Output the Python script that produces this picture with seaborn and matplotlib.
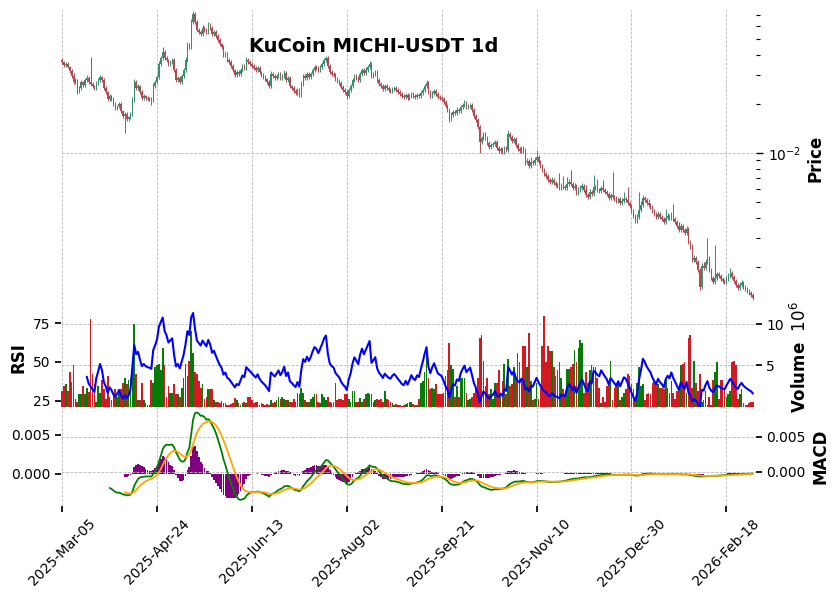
import numpy as np
import pandas as pd
import matplotlib
matplotlib.use("Agg")
import matplotlib.pyplot as plt
import seaborn as sns
from matplotlib.ticker import FixedLocator, FormatStrFormatter

sns.set_theme(style="white")
plt.rcParams['font.family'] = ['DejaVu Sans']
plt.rcParams.update({"text.color": "black", "axes.labelcolor": "black",
                     "xtick.color": "black", "ytick.color": "black"})

# ---------------- data ----------------
title = "KuCoin MICHI-USDT 1d"
start_date = "2025-03-05"
first_open = 0.0372

closes = [
    0.0362, 0.0347, 0.0352, 0.0337, 0.0318, 0.0297, 0.0272, 0.0280, 0.0241, 0.0250,
    0.0272, 0.0261, 0.0280, 0.0289, 0.0272, 0.0265, 0.0257, 0.0250, 0.0269, 0.0280,
    0.0293, 0.0280, 0.0250, 0.0237, 0.0215, 0.0224, 0.0215, 0.0199, 0.0189, 0.0194,
    0.0199, 0.0181, 0.0169, 0.0174, 0.0162, 0.0166, 0.0174, 0.0211, 0.0272, 0.0250,
    0.0257, 0.0237, 0.0218, 0.0224, 0.0218, 0.0215, 0.0214, 0.0211, 0.0257, 0.0272,
    0.0293, 0.0352, 0.0383, 0.0416, 0.0383, 0.0372, 0.0352, 0.0362, 0.0372, 0.0323,
    0.0280, 0.0289, 0.0272, 0.0297, 0.0323, 0.0372, 0.0460, 0.0447, 0.0637, 0.0713,
    0.0637, 0.0568, 0.0552, 0.0537, 0.0585, 0.0568, 0.0552, 0.0610, 0.0585, 0.0537,
    0.0552, 0.0522, 0.0493, 0.0466, 0.0447, 0.0399, 0.0410, 0.0372, 0.0362, 0.0342,
    0.0323, 0.0301, 0.0314, 0.0305, 0.0323, 0.0342, 0.0333, 0.0372, 0.0362, 0.0352,
    0.0342, 0.0333, 0.0323, 0.0333, 0.0314, 0.0301, 0.0293, 0.0284, 0.0272, 0.0257,
    0.0305, 0.0297, 0.0289, 0.0297, 0.0305, 0.0289, 0.0297, 0.0310, 0.0280, 0.0289,
    0.0257, 0.0250, 0.0241, 0.0234, 0.0244, 0.0227, 0.0265, 0.0297, 0.0289, 0.0305,
    0.0293, 0.0305, 0.0323, 0.0337, 0.0333, 0.0323, 0.0337, 0.0352, 0.0372, 0.0383,
    0.0342, 0.0314, 0.0305, 0.0301, 0.0284, 0.0276, 0.0269, 0.0254, 0.0244, 0.0237,
    0.0224, 0.0244, 0.0257, 0.0280, 0.0297, 0.0289, 0.0280, 0.0305, 0.0323, 0.0310,
    0.0323, 0.0337, 0.0352, 0.0297, 0.0305, 0.0314, 0.0280, 0.0265, 0.0257, 0.0247,
    0.0257, 0.0250, 0.0244, 0.0241, 0.0247, 0.0250, 0.0244, 0.0237, 0.0231, 0.0224,
    0.0221, 0.0227, 0.0218, 0.0224, 0.0231, 0.0224, 0.0221, 0.0227, 0.0224, 0.0234,
    0.0244, 0.0257, 0.0269, 0.0237, 0.0224, 0.0234, 0.0241, 0.0231, 0.0221, 0.0218,
    0.0215, 0.0205, 0.0194, 0.0184, 0.0162, 0.0171, 0.0179, 0.0176, 0.0184, 0.0181,
    0.0191, 0.0197, 0.0202, 0.0191, 0.0194, 0.0197, 0.0184, 0.0169, 0.0159, 0.0145,
    0.0117, 0.0124, 0.0130, 0.0124, 0.0115, 0.0109, 0.0112, 0.0113, 0.0117, 0.0107,
    0.0103, 0.0106, 0.0101, 0.0107, 0.0104, 0.0130, 0.0125, 0.0118, 0.0122, 0.0112,
    0.0106, 0.0103, 0.0107, 0.0104, 0.00881, 0.00893, 0.00832, 0.00881, 0.00869, 0.00906,
    0.00945, 0.00881, 0.00832, 0.00787, 0.00744, 0.00723, 0.00683, 0.00664, 0.00683, 0.00655,
    0.00636, 0.00627, 0.00610, 0.00627, 0.00618, 0.00610, 0.00645, 0.00664, 0.00645, 0.00610,
    0.00627, 0.00569, 0.00593, 0.00610, 0.00627, 0.00593, 0.00552, 0.00537, 0.00576, 0.00560,
    0.00618, 0.00610, 0.00593, 0.00585, 0.00610, 0.00593, 0.00576, 0.00560, 0.00529, 0.00552,
    0.00537, 0.00522, 0.00508, 0.00522, 0.00494, 0.00508, 0.00522, 0.00515, 0.00494, 0.00473,
    0.00441, 0.00411, 0.00383, 0.00405, 0.00447, 0.00480, 0.00529, 0.00515, 0.00494, 0.00480,
    0.00467, 0.00441, 0.00422, 0.00405, 0.00422, 0.00405, 0.00394, 0.00377, 0.00400, 0.00411,
    0.00400, 0.00417, 0.00394, 0.00377, 0.00357, 0.00337, 0.00357, 0.00337, 0.00323, 0.00342,
    0.00284, 0.00265, 0.00221, 0.00227, 0.00215, 0.00191, 0.00151, 0.00203, 0.00198, 0.00215,
    0.00227, 0.00191, 0.00172, 0.00161, 0.00172, 0.00180, 0.00176, 0.00169, 0.00164, 0.00161,
    0.00169, 0.00176, 0.00183, 0.00174, 0.00164, 0.00155, 0.00149, 0.00155, 0.00159, 0.00151,
    0.00146, 0.00142, 0.00138, 0.00135, 0.00129,
]

# upper / lower wick length, percent of the candle body edge
wick_up_pct = [
    3, 2, 3, 3, 2, 3, 4, 3, 2, 3, 3, 2, 3, 4, 3, 42, 3, 2, 3, 3,
    3, 2, 3, 3, 2, 3, 2, 3, 3, 2, 3, 3, 2, 3, 3, 2, 3, 4, 4, 3,
    3, 2, 3, 3, 2, 2, 2, 3, 4, 3, 3, 4, 3, 8, 3, 3, 2, 3, 3, 3,
    3, 3, 3, 3, 3, 4, 4, 3, 4, 5, 3, 3, 3, 3, 4, 3, 3, 4, 3, 3,
    3, 3, 3, 3, 2, 3, 3, 2, 3, 3, 3, 2, 3, 3, 3, 3, 3, 4, 3, 3,
    3, 3, 2, 3, 3, 2, 3, 3, 2, 3, 4, 3, 3, 3, 3, 3, 3, 4, 3, 3,
    3, 2, 3, 3, 3, 2, 4, 3, 3, 3, 3, 3, 3, 3, 3, 3, 3, 3, 3, 3,
    3, 3, 3, 3, 3, 3, 3, 3, 3, 3, 3, 3, 3, 3, 3, 3, 3, 3, 3, 3,
    4, 3, 4, 3, 3, 3, 3, 3, 3, 3, 3, 3, 3, 3, 3, 3, 3, 3, 3, 3,
    3, 3, 3, 3, 3, 3, 3, 3, 3, 3, 3, 3, 5, 3, 3, 3, 3, 3, 3, 3,
    3, 3, 3, 3, 3, 4, 3, 3, 4, 3, 3, 3, 4, 3, 3, 3, 3, 3, 3, 3,
    3, 3, 3, 3, 3, 3, 3, 3, 3, 3, 3, 3, 3, 3, 3, 6, 3, 3, 3, 3,
    3, 3, 3, 3, 3, 4, 3, 8, 3, 4, 10, 3, 3, 3, 3, 3, 3, 3, 4, 3,
    3, 3, 20, 5, 15, 3, 10, 4, 18, 3, 5, 3, 4, 5, 4, 3, 8, 3, 4, 3,
    18, 3, 14, 3, 3, 12, 3, 3, 3, 3, 38, 3, 4, 3, 3, 4, 10, 3, 20, 3,
    3, 3, 3, 4, 29, 6, 5, 3, 3, 6, 3, 3, 3, 3, 4, 3, 3, 3, 14, 4,
    3, 4, 16, 3, 3, 6, 4, 3, 3, 4, 3, 3, 4, 4, 3, 3, 3, 4, 5, 4,
    33, 3, 3, 3, 59, 4, 3, 3, 3, 3, 4, 4, 8, 3, 3, 3, 3, 4, 5, 3,
    3, 3, 3, 3, 3,
]
wick_dn_pct = [
    3, 3, 3, 2, 3, 3, 3, 3, 4, 3, 3, 3, 3, 3, 3, 3, 3, 3, 3, 3,
    3, 3, 3, 3, 3, 3, 3, 3, 3, 3, 3, 3, 3, 27, 3, 3, 3, 3, 3, 3,
    3, 3, 3, 3, 3, 3, 3, 7, 3, 3, 3, 3, 3, 3, 3, 3, 3, 3, 3, 3,
    3, 3, 3, 3, 3, 3, 3, 3, 3, 3, 3, 3, 3, 3, 3, 3, 3, 3, 3, 3,
    3, 3, 3, 3, 3, 3, 3, 3, 3, 3, 3, 3, 3, 3, 3, 3, 3, 3, 3, 3,
    3, 3, 3, 3, 3, 3, 3, 3, 3, 3, 3, 3, 3, 3, 3, 3, 3, 3, 3, 3,
    3, 3, 3, 3, 3, 3, 3, 3, 3, 3, 3, 3, 3, 3, 3, 3, 3, 3, 3, 3,
    3, 3, 3, 3, 3, 3, 3, 3, 3, 3, 5, 3, 3, 3, 3, 3, 3, 3, 3, 3,
    3, 3, 3, 3, 3, 3, 3, 3, 3, 3, 3, 3, 3, 3, 3, 3, 3, 3, 3, 3,
    3, 3, 3, 3, 3, 3, 3, 3, 3, 3, 3, 3, 3, 3, 3, 3, 3, 3, 3, 3,
    3, 3, 3, 3, 4, 3, 3, 3, 3, 3, 3, 3, 3, 3, 3, 3, 3, 3, 3, 3,
    17, 3, 3, 3, 3, 3, 3, 3, 3, 3, 3, 3, 3, 3, 3, 3, 3, 3, 3, 3,
    3, 3, 3, 4, 5, 3, 3, 3, 3, 3, 3, 3, 3, 3, 3, 3, 3, 3, 3, 3,
    3, 3, 3, 3, 3, 3, 3, 3, 3, 3, 3, 3, 3, 3, 3, 3, 3, 3, 3, 3,
    3, 3, 3, 3, 3, 3, 3, 3, 3, 3, 3, 3, 3, 3, 3, 3, 3, 3, 3, 3,
    3, 3, 3, 3, 3, 3, 3, 3, 3, 3, 3, 3, 3, 3, 3, 3, 3, 3, 3, 3,
    3, 3, 3, 3, 3, 3, 3, 3, 3, 3, 3, 3, 3, 3, 3, 3, 4, 3, 3, 3,
    3, 3, 3, 3, 3, 3, 3, 3, 3, 3, 3, 3, 3, 3, 3, 3, 3, 3, 3, 3,
    3, 3, 3, 3, 3,
]

# daily volume, millions
volume_millions = [
    1.9, 2.5, 2.7, 1.9, 4.2, 3.0, 5.1, 1.0, 0.6, 1.5,
    1.5, 2.5, 1.5, 2.3, 1.8, 10.6, 4.0, 2.7, 0.6, 2.5,
    1.7, 3.3, 2.1, 1.0, 3.7, 1.2, 0.8, 1.7, 2.1, 1.2,
    2.1, 2.1, 2.9, 3.5, 2.7, 3.3, 3.5, 4.6, 10.0, 4.0,
    0.8, 0.8, 2.9, 0.8, 0.4, 0.2, 0.2, 3.2, 2.9, 4.8,
    5.1, 5.2, 4.4, 7.1, 5.1, 1.2, 2.5, 1.7, 1.7, 2.7,
    1.5, 1.5, 1.2, 2.3, 3.5, 5.2, 3.7, 5.6, 9.2, 6.5,
    4.2, 4.0, 3.1, 2.3, 2.7, 1.0, 1.2, 2.1, 2.1, 2.1,
    0.8, 0.6, 0.6, 0.5, 0.7, 0.5, 0.4, 0.2, 0.2, 0.3,
    0.4, 1.1, 0.8, 0.4, 0.2, 0.4, 0.6, 0.4, 1.2, 1.2,
    0.8, 0.5, 0.6, 0.6, 0.2, 0.4, 0.3, 0.2, 0.3, 0.2,
    0.8, 0.4, 0.6, 0.8, 1.2, 1.0, 1.2, 1.0, 0.8, 0.8,
    0.6, 0.6, 1.0, 0.6, 1.7, 1.5, 2.3, 1.7, 0.8, 0.6,
    0.6, 1.0, 1.2, 1.5, 1.6, 0.6, 0.5, 1.5, 1.2, 0.8,
    1.2, 0.6, 0.4, 0.6, 2.9, 0.8, 1.0, 1.0, 0.8, 1.5,
    1.5, 1.0, 0.6, 1.9, 1.9, 0.6, 0.6, 1.1, 0.6, 1.0,
    1.5, 1.7, 1.5, 1.6, 0.6, 0.8, 1.0, 0.8, 0.9, 0.6,
    1.9, 1.0, 0.8, 0.6, 0.4, 0.2, 0.3, 0.2, 0.2, 0.1,
    0.2, 0.3, 0.4, 0.6, 0.6, 0.3, 0.2, 0.2, 1.0, 2.9,
    3.1, 4.2, 7.1, 3.5, 2.1, 2.3, 2.1, 2.7, 1.5, 1.5,
    1.5, 1.7, 3.7, 4.4, 7.7, 5.0, 4.6, 1.2, 2.5, 1.2,
    3.5, 3.5, 3.5, 1.7, 0.8, 1.0, 1.2, 1.7, 2.1, 3.5,
    8.3, 8.7, 5.6, 2.5, 3.5, 1.5, 2.1, 1.0, 2.9, 2.9,
    4.4, 1.7, 3.1, 5.2, 1.5, 5.8, 2.5, 2.7, 4.8, 3.5,
    6.5, 5.4, 3.3, 7.3, 7.3, 4.8, 8.9, 3.1, 0.8, 1.0,
    2.9, 1.0, 2.3, 7.3, 11.0, 5.4, 7.3, 6.7, 6.7, 4.8,
    3.7, 4.4, 5.4, 3.5, 2.1, 1.5, 4.6, 4.6, 4.8, 5.2,
    6.9, 5.4, 7.1, 8.1, 7.7, 1.7, 4.2, 2.9, 4.4, 5.0,
    4.8, 4.8, 3.5, 2.3, 0.4, 1.2, 0.6, 2.5, 3.1, 5.6,
    0.8, 2.3, 2.7, 3.1, 0.8, 1.2, 1.7, 2.1, 4.0, 3.7,
    2.7, 2.1, 0.8, 2.9, 4.8, 2.5, 2.7, 0.8, 1.5, 1.7,
    1.5, 2.9, 3.1, 2.9, 2.7, 2.3, 2.3, 2.1, 3.3, 2.3,
    1.7, 3.1, 1.7, 1.0, 1.9, 2.1, 5.0, 5.2, 5.4, 1.7,
    8.3, 8.7, 2.3, 5.6, 2.9, 1.9, 4.0, 0.6, 0.8, 1.9,
    0.2, 1.2, 0.2, 3.3, 4.2, 5.4, 1.0, 3.3, 3.3, 2.3,
    1.2, 1.5, 1.9, 5.4, 5.6, 5.0, 1.0, 1.5, 2.1, 0.4,
    0.2, 0.2, 0.4, 0.6, 0.6,
]

# ---------------- derived OHLC and indicators ----------------
n = len(closes)
x = np.arange(n)
c = np.array(closes)
o = np.array([first_open] + closes[:-1])
up = c >= o
body_top = np.maximum(o, c)
body_bot = np.minimum(o, c)
highs = body_top * (1 + np.array(wick_up_pct) / 100.0)
lows = body_bot / (1 + np.array(wick_dn_pct) / 100.0)
dates = pd.date_range(start_date, periods=n, freq="D")

s = pd.Series(c)
delta = s.diff().fillna(0)
avg_gain = delta.clip(lower=0).ewm(alpha=1 / 14, adjust=False, min_periods=14).mean()
avg_loss = (-delta.clip(upper=0)).ewm(alpha=1 / 14, adjust=False, min_periods=14).mean()
rsi = 100 - 100 / (1 + avg_gain / avg_loss)
ema12 = s.ewm(span=12, adjust=False, min_periods=12).mean()
ema26 = s.ewm(span=26, adjust=False, min_periods=26).mean()
macd = ema12 - ema26
signal = macd.ewm(span=9, adjust=False, min_periods=9).mean()
hist = macd - signal

# ---------------- figure ----------------
CANDLE_UP, CANDLE_DN = "#358f6c", "#b34850"
VOL_UP, VOL_DN = "#087a08", "#d11a22"
GRID = dict(color="#b9b9b9", linestyle="--", linewidth=0.6)

fig = plt.figure(figsize=(8.37, 5.98), dpi=100)
L, W = 61 / 837, 695 / 837


def rect(ytop, ybot):
    return [L, 1 - ybot / 598, W, (ybot - ytop) / 598]


ax_p = fig.add_axes(rect(10, 307.6))
ax_v = fig.add_axes(rect(307.6, 406.8), sharex=ax_p)
ax_m = fig.add_axes(rect(406.8, 506), sharex=ax_p)
ax_r = ax_v.twinx()
ax_m2 = ax_m.twinx()

# price panel
ccols = np.where(up, CANDLE_UP, CANDLE_DN)
ax_p.vlines(x, lows, highs, colors=ccols, linewidth=0.7)
ax_p.bar(x, body_top - body_bot, bottom=body_bot, width=0.7, color=ccols, linewidth=0)
ax_p.set_yscale("log")
ax_p.set_ylim(0.001126, 0.0754)
ax_p.yaxis.tick_right()
ax_p.yaxis.set_label_position("right")
ax_p.set_ylabel("Price", fontsize=12, fontweight="bold", labelpad=4)
ax_p.tick_params(axis="y", which="major", right=True, left=False, length=5, width=1,
                 labelsize=10, colors="black")
ax_p.tick_params(axis="y", which="minor", right=True, left=False, length=3, width=0.8)
ax_p.tick_params(axis="x", bottom=False, labelbottom=False)
ax_p.grid(True, which="major", **GRID)
ax_p.grid(False, which="minor")

# volume (ticks on right) + RSI (ticks on left) panel
vcols = np.where(up, VOL_UP, VOL_DN)
ax_v.bar(x, volume_millions, width=0.9, color=vcols, linewidth=0)
ax_v.set_ylim(0, 12.0)
ax_v.yaxis.set_major_locator(FixedLocator([5, 10]))
ax_v.tick_params(axis="y", left=False, labelleft=False, right=True, labelright=True,
                 length=4, labelsize=10)
ax_v.yaxis.set_label_position("right")
ax_v.set_ylabel("Volume  $10^{6}$", fontsize=12, fontweight="bold", labelpad=4)
ax_v.tick_params(axis="x", bottom=False, labelbottom=False)
ax_v.grid(True, **GRID)

sns.lineplot(x=x, y=rsi.values, ax=ax_r, color="blue", linewidth=1.5, estimator=None, sort=False)
ax_r.set_ylim(21, 85)
ax_r.yaxis.set_major_locator(FixedLocator([25, 50, 75]))
ax_r.tick_params(axis="y", left=True, labelleft=True, right=False, labelright=False,
                 length=4, labelsize=10)
ax_r.yaxis.set_label_position("left")
ax_r.set_ylabel("RSI", fontsize=12, fontweight="bold", labelpad=4)
ax_r.tick_params(axis="x", bottom=False, labelbottom=False)
ax_r.grid(False)

# MACD panel: histogram on the left scale, lines on the right scale
ax_m.bar(x, hist.values, width=0.9, color="purple", linewidth=0)
ax_m.set_ylim(-0.0041, 0.0086)
ax_m.yaxis.set_major_locator(FixedLocator([0.0, 0.005]))
ax_m.yaxis.set_major_formatter(FormatStrFormatter("%.3f"))
ax_m.tick_params(axis="y", left=True, labelleft=True, right=False, labelright=False,
                 length=4, labelsize=10)
ax_m.grid(True, axis="x", **GRID)
ax_m.grid(False, axis="y")

sns.lineplot(x=x, y=macd.values, ax=ax_m2, color="green", linewidth=1.3, estimator=None, sort=False)
sns.lineplot(x=x, y=signal.values, ax=ax_m2, color="orange", linewidth=1.3, estimator=None, sort=False)
ax_m2.set_ylim(-0.0049, 0.0093)
ax_m2.yaxis.set_major_locator(FixedLocator([0.0, 0.005]))
ax_m2.yaxis.set_major_formatter(FormatStrFormatter("%.3f"))
ax_m2.tick_params(axis="y", right=True, labelright=True, left=False, labelleft=False,
                  length=4, labelsize=10)
ax_m2.yaxis.set_label_position("right")
ax_m2.set_ylabel("MACD", fontsize=12, fontweight="bold", labelpad=4)
ax_m2.grid(True, axis="y", **GRID)
ax_m2.grid(False, axis="x")

# shared x axis
tick_idx = list(range(0, n, 50))
ax_m.set_xlim(-0.6, n + 0.6)
ax_m.xaxis.set_major_locator(FixedLocator(tick_idx))
ax_m.set_xticklabels([dates[i].strftime("%Y-%b-%d") for i in tick_idx],
                     rotation=45, ha="center", fontsize=10)
ax_m.tick_params(axis="x", bottom=True, length=4, labelsize=10)
for a in (ax_m2, ax_r):
    a.tick_params(axis="x", bottom=False, labelbottom=False)
for a in (ax_p, ax_v, ax_r, ax_m, ax_m2):
    a.set_xlabel("")
    for sp in a.spines.values():
        sp.set_visible(False)
    a.set_facecolor("none")

fig.text(374 / 837, 1 - 47 / 598, title, ha="center", va="center",
         fontsize=14, fontweight="bold", color="black")

fig.savefig("out.png", dpi=100, facecolor="white")
